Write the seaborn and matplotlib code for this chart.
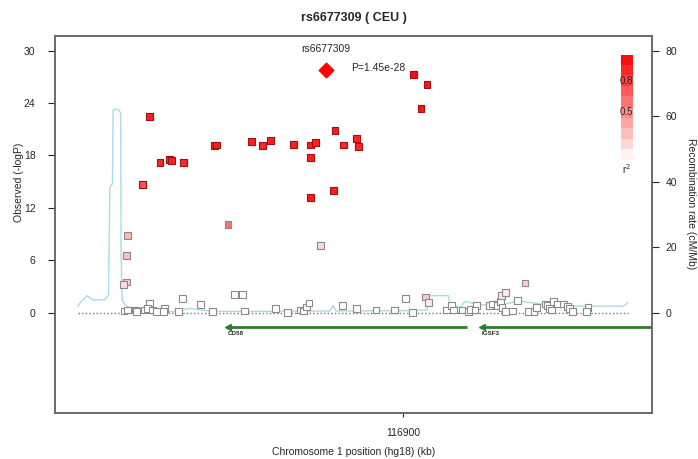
import numpy as np
import pandas as pd
import matplotlib
matplotlib.use("Agg")
import matplotlib.pyplot as plt
from matplotlib.colors import LinearSegmentedColormap
import seaborn as sns

# ---- lead SNP ----
lead_snp = "rs6677309"
lead_pos = 116878.5          # kb (hg18)
lead_p = 1.45e-28

# ---- other SNPs: position (kb), -log10 P, r^2 with lead SNP ----
snp_pos = [116829.6, 116832.4, 116835.1, 116835.6, 116838.9, 116827.5, 116847.5, 116848.0,
           116857.9, 116860.9, 116863.1, 116869.6, 116902.8, 116906.6, 116904.9, 116881.0,
           116874.2, 116875.5, 116883.4, 116887.1, 116887.5, 116874.2, 116880.5, 116874.2,
           116851.3, 116876.9, 116823.3, 116823.2, 116823.0, 116822.2, 116906.1, 116933.8,
           116907.1,
           116853.2, 116855.4, 116838.7, 116843.7, 116829.6, 116822.4, 116823.5, 116825.7,
           116826.0, 116828.2, 116828.9, 116830.3, 116831.5, 116833.6, 116833.4, 116837.6,
           116847.1, 116855.8, 116864.6, 116867.8, 116871.4, 116872.3, 116873.0, 116873.8,
           116883.0, 116887.1, 116892.4, 116897.5, 116902.5, 116900.7, 116911.9, 116913.4,
           116913.9, 116916.3, 116918.1, 116918.5, 116920.4, 116919.9, 116923.9, 116924.8,
           116926.1, 116927.1, 116927.4, 116928.3, 116927.3, 116928.4, 116931.7, 116930.4,
           116934.7, 116936.3, 116937.1, 116939.4, 116940.0, 116940.6, 116941.7, 116942.8,
           116941.2, 116944.4, 116945.6, 116946.1, 116947.1, 116951.3, 116950.9]
snp_logp = [22.5, 17.2, 17.5, 17.4, 17.2, 14.7, 19.1, 19.2,
            19.6, 19.1, 19.7, 19.3, 27.3, 26.1, 23.4, 20.9,
            19.2, 19.5, 19.2, 19.9, 19.0, 17.8, 14.0, 13.2,
            10.1, 7.7, 8.8, 6.5, 3.5, 3.2, 1.8, 3.4,
            1.2,
            2.1, 2.1, 1.6, 0.9, 1.1, 0.2, 0.3, 0.3,
            0.1, 0.3, 0.5, 0.3, 0.1, 0.5, 0.1, 0.1,
            0.1, 0.2, 0.5, 0.0, 0.3, 0.2, 0.65, 1.1,
            0.8, 0.45, 0.3, 0.3, 0.05, 1.65, 0.3, 0.85,
            0.3, 0.3, 0.1, 0.4, 0.85, 0.3, 0.8, 1.0,
            0.85, 1.3, 0.6, 0.1, 2.0, 2.3, 1.4, 0.2,
            0.1, 0.1, 0.6, 1.0, 0.85, 0.5, 1.3, 1.0,
            0.3, 1.0, 0.7, 0.45, 0.1, 0.6, 0.1]
snp_r2 = [0.88, 0.85, 0.85, 0.88, 0.85, 0.68, 0.88, 0.88,
          0.88, 0.85, 0.88, 0.88, 0.95, 0.92, 0.92, 0.88,
          0.88, 0.88, 0.85, 0.85, 0.85, 0.88, 0.88, 0.9,
          0.55, 0.15, 0.3, 0.25, 0.2, 0.15, 0.2, 0.2,
          0.08] + [0.0] * 44 + [0.08, 0.08] + [0.0] * 17

# ---- recombination rate (cM/Mb) ----
rec_pos = [116809.6, 116810.2, 116812.2, 116813.2, 116813.9, 116817.1, 116818.1, 116818.5,
           116819.2, 116819.4, 116819.9, 116821.0, 116821.5, 116821.6, 116821.9, 116822.7,
           116825.0, 116829.6, 116836.6, 116838.5, 116840.8, 116843.5, 116847.7, 116860.2,
           116879.6, 116880.5, 116881.3, 116899.1, 116906.6, 116906.9, 116912.5, 116913.0,
           116915.8, 116917.1, 116918.5, 116919.9, 116926.9, 116932.4, 116938.0, 116941.6,
           116961.0, 116962.4]
rec_rate = [1.8, 3.0, 5.2, 4.3, 3.9, 3.9, 5.4, 38.5,
            39.3, 61.9, 62.2, 61.9, 60.9, 19.2, 3.9, 2.4,
            0.8, 0.4, 0.3, 0.9, 1.3, 0.8, 0.4, 0.4,
            0.5, 2.1, 0.5, 0.6, 0.8, 5.2, 5.2, 2.4,
            1.6, 3.4, 3.2, 2.4, 2.4, 3.5, 2.7, 2.0,
            2.0, 3.0]

# ---- genes (minus strand) ----
gene_names = ["CD58", "IGSF3"]
gene_start = [116851.3, 116921.8]
gene_end = [116917.7, 116975.0]

x_ticks = [116900]
y_ticks = [0, 6, 12, 18, 24, 30]
rec_ticks = [0, 20, 40, 60, 80]

sns.set_style("white")
plt.rcParams["font.family"] = ["Liberation Sans", "DejaVu Sans"]

r2_cmap = LinearSegmentedColormap.from_list("r2", ["#ffffff", "#ff0000"])

fig = plt.figure(figsize=(6.98, 4.59), dpi=100)
ax = fig.add_axes([55 / 698, 46 / 459, 597 / 698, 377 / 459])
xlim = (116803.25, 116969.08)
ylim = (-11.49, 31.68)
rec_scale = 80 / 30

# recombination rate on a twin axis behind the SNPs
ax2 = ax.twinx()
ax.set_zorder(ax2.get_zorder() + 1)
ax.patch.set_visible(False)
sns.lineplot(x=rec_pos, y=rec_rate, ax=ax2, color="#a8dce8", lw=1.0, zorder=1)
ax2.set_ylim(ylim[0] * rec_scale, ylim[1] * rec_scale)
ax2.set_yticks(rec_ticks)
ax2.set_ylabel("Recombination rate (cM/Mb)", rotation=270, fontsize=7.5)
ax2.yaxis.set_label_coords(1.0653, 0.555)
ax2.yaxis.label.set_va("center")

# baseline
ax.plot([min(rec_pos), max(rec_pos)], [0, 0], ls=(0, (1, 1.6)), color="#777777", lw=1.0, zorder=1)

df = pd.DataFrame({"pos": snp_pos, "logp": snp_logp, "r2": snp_r2})
edge = ["#a01010" if r >= 0.6 else "#8a8a8a" for r in df["r2"]]
sns.scatterplot(data=df, x="pos", y="logp", hue="r2", palette=r2_cmap, hue_norm=(0, 1),
                marker="s", s=24, edgecolor=edge, linewidth=0.8, legend=False, ax=ax, zorder=3)

lead_logp = -np.log10(lead_p)
ax.scatter([lead_pos], [lead_logp], marker="D", s=55, color="#ff0000", edgecolor="#ff0000",
           zorder=4)
ax.annotate(lead_snp, (lead_pos, lead_logp), xytext=(0, 11), textcoords="offset points",
            ha="center", va="bottom", fontsize=7.5)
ax.annotate(f"P={lead_p:.2e}", (lead_pos, lead_logp), xytext=(18.5, 1), textcoords="offset points",
            ha="left", va="center", fontsize=7.5)

# gene track: body clipped to the panel, arrow head at the 5' end
gene_y = -1.6
for name, g0, g1 in zip(gene_names, gene_start, gene_end):
    ax.plot([g0, g1], [gene_y, gene_y], color="#2e7d2e", lw=2.0, solid_capstyle="butt", zorder=2)
    ax.plot([g0], [gene_y], marker="<", ms=4, color="#2e7d2e", mec="#2e7d2e", zorder=2)
    ax.text(g0, gene_y - 0.55, name, fontsize=4.5, fontweight="bold", ha="left", va="top")

ax.set_xlim(xlim)
ax.set_ylim(ylim)
ax.set_xticks(x_ticks)
ax.set_xticklabels([str(t) for t in x_ticks])
ax.set_yticks(y_ticks)
ax.set_xlabel("Chromosome 1 position (hg18) (kb)", fontsize=7.5, labelpad=6)
ax.set_ylabel("Observed (-logP)", fontsize=7.5)
ax.yaxis.set_label_coords(-0.0611, 0.613)
ax.yaxis.label.set_va("center")
ax.tick_params(axis="y", direction="out", length=5, width=0.8, pad=9, labelsize=7.5, left=True)
ax.tick_params(axis="x", direction="out", length=3, width=0.8, pad=8, labelsize=7.5, bottom=True)
ax2.tick_params(axis="y", direction="out", length=5, width=0.8, pad=5, labelsize=7.5, right=True)
for a in (ax, ax2):
    for sp in a.spines.values():
        sp.set_color("#666666")
        sp.set_linewidth(1.1)

# r^2 colour key
cax = ax.inset_axes([0.948, 0.671, 0.019, 0.279])
levels = np.linspace(0.05, 0.95, 10)
cax.imshow(levels[:, None], cmap=r2_cmap, vmin=0, vmax=1, origin="lower", aspect="auto",
           extent=(0, 1, 0, 1))
cax.axis("off")
cax.text(0.5, 0.755, "0.8", transform=cax.transAxes, ha="center", va="center", fontsize=7)
cax.text(0.5, 0.454, "0.5", transform=cax.transAxes, ha="center", va="center", fontsize=7)
cax.text(0.5, -0.02, "r$^2$", transform=cax.transAxes, ha="center", va="top", fontsize=7)

fig.text(353.5 / 698, 1 - 18 / 459, f"{lead_snp} ( CEU )", ha="center", va="center",
         fontsize=9, fontweight="bold")

fig.savefig("out.png", dpi=100)
